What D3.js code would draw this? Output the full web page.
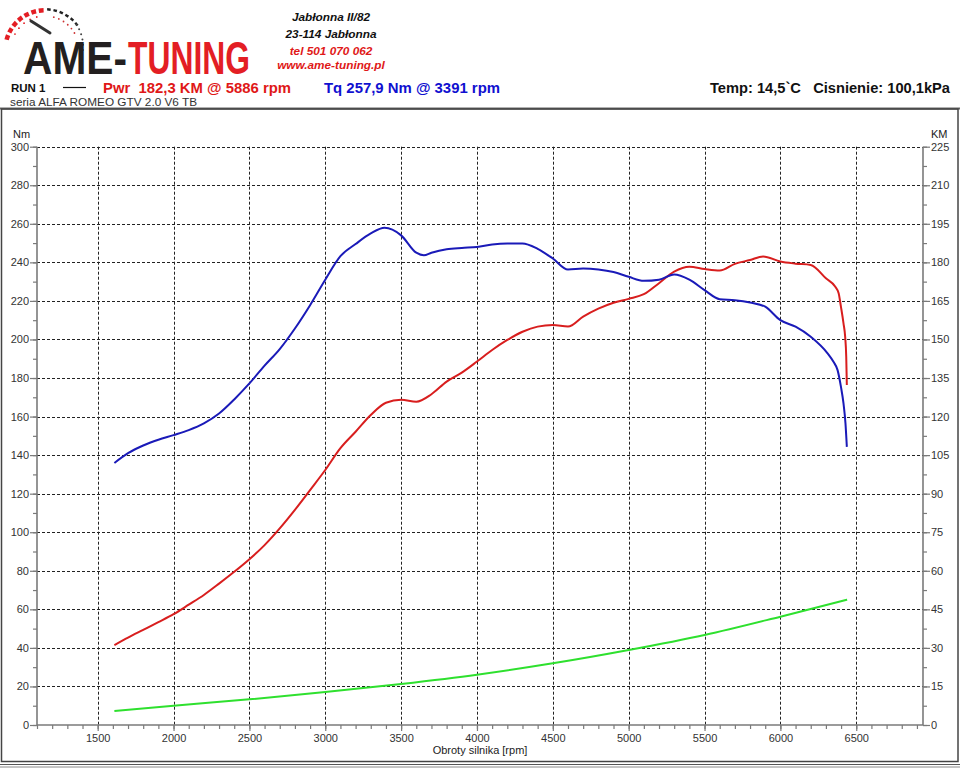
<!DOCTYPE html>
<html><head><meta charset="utf-8">
<script src="https://cdn.jsdelivr.net/npm/d3@7"></script>
<style>
html,body{margin:0;padding:0;background:#fff;}
svg{display:block;font-family:"Liberation Sans",Arial,sans-serif;}
</style></head><body>
<svg id="c" width="960" height="768"></svg>
<script>
// ---- data ----
const torqueRpm=[1610,1700,1800,1900,2000,2100,2200,2300,2400,2500,2600,2700,2800,2900,3000,3100,3200,3300,3391,3500,3600,3650,3700,3800,3900,4000,4100,4200,4300,4400,4500,4600,4700,4800,4900,5000,5100,5200,5300,5400,5500,5600,5700,5800,5900,6000,6100,6200,6311,6350,6377,6399,6416,6429,6438];
const torqueNm=[135.9,141.0,145.0,148.0,150.4,153.0,156.5,161.6,168.9,177.2,186.4,195.0,205.7,217.8,231.0,243.2,249.5,255.0,257.9,254.0,245.0,243.7,245.0,246.8,247.5,248.0,249.3,249.8,249.8,247.0,242.0,236.3,236.8,236.3,235.0,232.5,230.4,231.0,233.7,231.0,225.6,220.9,220.4,219.2,217.0,210.0,206.6,201.4,192.8,188.4,184.1,175.5,166.8,156.5,144.3];
const powerRpm=[1610,1700,1800,1900,2000,2100,2200,2300,2400,2500,2600,2700,2800,2900,3000,3100,3200,3300,3400,3500,3600,3700,3800,3900,4000,4100,4200,4300,4400,4500,4600,4700,4800,4900,5000,5100,5200,5300,5400,5500,5600,5700,5800,5886,6000,6100,6200,6300,6362,6384,6399,6416,6427,6434,6438];
const powerKM=[31.1,34.0,37.0,40.0,43.1,46.8,50.6,55.0,59.6,64.5,70.0,76.5,83.7,91.4,99.2,107.7,114.1,120.6,125.4,126.5,125.8,128.7,133.6,137.1,141.4,145.9,149.8,153.0,155.0,155.6,155.0,158.9,162.0,164.3,165.8,167.6,171.9,176.4,178.3,177.4,176.8,179.4,180.9,182.3,180.3,179.5,179.0,173.8,170.5,168.0,162.8,156.3,151.0,143.3,132.3];
const auxRpm=[1610,2000,2500,3000,3500,4000,4500,5000,5500,6000,6440];
const auxVal=[7.3,10.0,13.3,17.1,21.3,26.1,32.0,38.9,46.7,56.2,65.0];
const xTicks=[1500,2000,2500,3000,3500,4000,4500,5000,5500,6000,6500];
const nmTicks=[0,20,40,60,80,100,120,140,160,180,200,220,240,260,280,300];
const kmTicks=[0,15,30,45,60,75,90,105,120,135,150,165,180,195,210,225];
const addressLines=["Jabłonna II/82","23-114 Jabłonna","tel 501 070 062","www.ame-tuning.pl"];

const svg=d3.select("#c");
const x=d3.scaleLinear().domain([1100,6940]).range([37,923]);
const yNm=d3.scaleLinear().domain([0,300]).range([725,146.7]);
const yKM=d3.scaleLinear().domain([0,225]).range([725,146.7]);
const L=37,R=923,B=725,T=146.7;

// ---- frame ----
svg.append("line").attr("x1",0).attr("x2",960).attr("y1",108.5).attr("y2",108.5).attr("stroke","#666").attr("stroke-width",2);
svg.append("rect").attr("x",1.5).attr("y",109).attr("width",956.5).attr("height",652.5).attr("fill","none").attr("stroke","#444").attr("stroke-width",1.5);
svg.append("line").attr("x1",0).attr("x2",960).attr("y1",764.5).attr("y2",764.5).attr("stroke","#555").attr("stroke-width",1);
svg.append("line").attr("x1",0).attr("x2",960).attr("y1",767).attr("y2",767).attr("stroke","#888").attr("stroke-width",1);

// ---- logo ----
const logo=svg.append("g");
const cx=45,cy=50,r=42;
for(let i=0;i<7;i++){
  const a=(-165+i*11)*Math.PI/180, a2=a+7*Math.PI/180;
  logo.append("path").attr("d",d3.arc()({innerRadius:r-4.5,outerRadius:r,startAngle:a+Math.PI/2,endAngle:a2+Math.PI/2}))
    .attr("transform",`translate(${cx},${cy})`).attr("fill","#e31e24");
}
for(let i=0;i<6;i++){
  const a=(-87+i*9)*Math.PI/180, a2=a+5*Math.PI/180;
  logo.append("path").attr("d",d3.arc()({innerRadius:r-2.5,outerRadius:r,startAngle:a+Math.PI/2,endAngle:a2+Math.PI/2}))
    .attr("transform",`translate(${cx},${cy})`).attr("fill","#222");
}
for(let i=0;i<6;i++){
  const a=(-34+i*8)*Math.PI/180;
  logo.append("circle").attr("cx",cx+(r-2)*Math.cos(a)*0.95).attr("cy",cy+(r-2)*Math.sin(a)*0.95-4).attr("r",1).attr("fill","#444");
}
for(let i=0;i<5;i++){
  const a=(-152+i*12)*Math.PI/180;
  logo.append("circle").attr("cx",cx+(r-8)*Math.cos(a)).attr("cy",cy+(r-8)*Math.sin(a)).attr("r",0.9).attr("fill","#e31e24");
}
for(let i=0;i<6;i++){
  const a=(-75+i*9)*Math.PI/180;
  logo.append("circle").attr("cx",cx+(r-8)*Math.cos(a)).attr("cy",cy+(r-8)*Math.sin(a)).attr("r",0.9).attr("fill","#c33");
}
logo.append("line").attr("x1",31).attr("y1",21).attr("x2",50).attr("y2",33).attr("stroke","#333").attr("stroke-width",3).attr("stroke-linecap","round");

function fitText(g,str,x0,y0,w,size,color){
  const t=g.append("text").attr("x",0).attr("y",0).attr("font-size",size).attr("font-weight","bold").attr("fill",color).text(str);
  const nat=t.node().getComputedTextLength();
  t.attr("transform",`translate(${x0},${y0}) scale(${w/nat},1)`);
}
fitText(logo,"AME-",23,74,104,47,"#231f20");
fitText(logo,"TUNING",128,74,122,47,"#e31e24");

// address
svg.append("g").selectAll("text").data(addressLines).join("text")
  .attr("x",331).attr("y",(d,i)=>[20.5,37.5,54.5,68.5][i]).attr("text-anchor","middle")
  .attr("font-size",11.8).attr("font-weight","bold").attr("font-style","italic")
  .attr("fill",(d,i)=>i<2?"#111":"#e01818").text(d=>d);

// header row
svg.append("text").attr("x",11).attr("y",92).attr("font-size",11.5).attr("font-weight","bold").attr("fill","#111").text("RUN 1");
svg.append("line").attr("x1",63).attr("x2",86).attr("y1",87.5).attr("y2",87.5).attr("stroke","#111").attr("stroke-width",1.2);
svg.append("text").attr("x",103).attr("y",92.5).attr("font-size",14.5).attr("font-weight","bold").attr("fill","#e01818")
  .style("white-space","pre").attr("textLength",188).attr("lengthAdjust","spacingAndGlyphs").text("Pwr  182,3 KM @ 5886 rpm");
svg.append("text").attr("x",324).attr("y",92.5).attr("font-size",14.5).attr("font-weight","bold").attr("fill","#1010d0")
  .attr("textLength",176).attr("lengthAdjust","spacingAndGlyphs").text("Tq 257,9 Nm @ 3391 rpm");
svg.append("text").attr("x",710).attr("y",93).attr("font-size",14).attr("font-weight","bold").attr("fill","#111")
  .style("white-space","pre").attr("textLength",240).attr("lengthAdjust","spacingAndGlyphs").text("Temp: 14,5`C   Cisnienie: 100,1kPa");
svg.append("text").attr("x",10).attr("y",106).attr("font-size",11.5).attr("fill","#333")
  .attr("textLength",187).attr("lengthAdjust","spacingAndGlyphs").text("seria ALFA ROMEO GTV 2.0 V6 TB");

// ---- grid ----
const grid=svg.append("g").attr("stroke","#222").attr("stroke-width",1).attr("stroke-dasharray","3,2");
grid.selectAll(".h").data(nmTicks.filter(d=>d>0)).join("line")
  .attr("x1",L).attr("x2",R).attr("y1",d=>Math.round(yNm(d))+0.5).attr("y2",d=>Math.round(yNm(d))+0.5);
grid.selectAll(".v").data(xTicks).join("line")
  .attr("y1",T).attr("y2",B).attr("x1",d=>Math.round(x(d))+0.5).attr("x2",d=>Math.round(x(d))+0.5);

// ---- axes ----
const axisColor="#7a7a7a";
const gl=svg.append("g").attr("transform",`translate(${L},0)`)
  .call(d3.axisLeft(yNm).tickValues(d3.range(0,301,10)).tickSize(4).tickFormat(""));
const gl2=svg.append("g").attr("transform",`translate(${L},0)`)
  .call(d3.axisLeft(yNm).tickValues(nmTicks).tickSize(7).tickPadding(1));
const gr=svg.append("g").attr("transform",`translate(${R},0)`)
  .call(d3.axisRight(yKM).tickValues(d3.range(0,226,7.5)).tickSize(4).tickFormat(""));
const gr2=svg.append("g").attr("transform",`translate(${R},0)`)
  .call(d3.axisRight(yKM).tickValues(kmTicks).tickSize(7).tickPadding(1));
const gb=svg.append("g").attr("transform",`translate(0,${B})`)
  .call(d3.axisBottom(x).tickValues(d3.range(1100,6941,100)).tickSize(4).tickFormat(""));
const gb2=svg.append("g").attr("transform",`translate(0,${B})`)
  .call(d3.axisBottom(x).tickValues(xTicks).tickSize(6).tickPadding(3).tickFormat(d3.format("d")));
[gl,gl2,gr,gr2,gb,gb2].forEach(g=>{
  g.selectAll(".domain").attr("stroke",axisColor).attr("stroke-width",1.6);
  g.selectAll(".tick line").attr("stroke",axisColor).attr("stroke-width",1.2);
  g.selectAll(".tick text").attr("fill","#333").attr("font-size",11).attr("font-family","Liberation Sans, Arial, sans-serif");
});
[gl,gr,gb].forEach(g=>g.select(".domain").remove());
gl2.select(".domain").attr("d",`M0,${B}V${T}`);
gr2.select(".domain").attr("d",`M0,${B}V${T}`);
gb2.select(".domain").attr("d",`M${L},0H${R}`);

svg.append("text").attr("x",13).attr("y",138).attr("font-size",11).attr("fill","#222").text("Nm");
svg.append("text").attr("x",931).attr("y",138).attr("font-size",11).attr("fill","#222").text("KM");
svg.append("text").attr("x",480).attr("y",754).attr("text-anchor","middle").attr("font-size",11).attr("fill","#222").text("Obroty silnika [rpm]");

// ---- curves ----
const lineNm=d3.line().x(d=>x(d[0])).y(d=>yNm(d[1])).curve(d3.curveMonotoneX);
const lineKM=d3.line().x(d=>x(d[0])).y(d=>yKM(d[1])).curve(d3.curveMonotoneX);
svg.append("path").datum(d3.zip(auxRpm,auxVal)).attr("d",lineNm).attr("fill","none").attr("stroke","#2ee02e").attr("stroke-width",2);
svg.append("path").datum(d3.zip(powerRpm,powerKM)).attr("d",lineKM).attr("fill","none").attr("stroke","#d81e1e").attr("stroke-width",2);
svg.append("path").datum(d3.zip(torqueRpm,torqueNm)).attr("d",lineNm).attr("fill","none").attr("stroke","#1a1ab8").attr("stroke-width",2);
</script>
</body></html>
